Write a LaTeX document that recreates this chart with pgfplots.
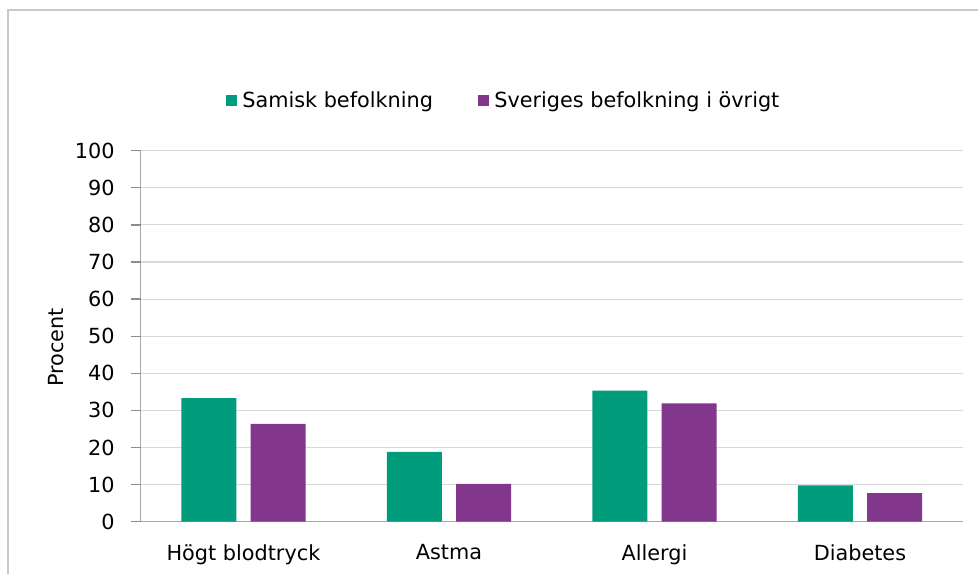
\documentclass[border=0pt]{standalone}
\usepackage{pgfplots}
\pgfplotsset{compat=1.18}
\usepackage{fontspec}
\setmainfont{DejaVu Sans}
\definecolor{sam}{HTML}{009C7B}
\definecolor{sve}{HTML}{82368C}
\definecolor{axgray}{HTML}{A6A6A6}
\definecolor{tickgray}{HTML}{8C8C8C}
\definecolor{gridgray}{HTML}{D9D9D9}
\definecolor{framegray}{HTML}{C8C8C8}
\begin{document}
\begin{tikzpicture}
\useasboundingbox (-105.525pt,-39.225pt) rectangle (627.975pt,391.275pt);
\draw[framegray, line width=0.9pt] (-99.525pt,-45pt) -- (-99.525pt,383.775pt) -- (640pt,383.775pt);
\begin{axis}[
  at={(0pt,0pt)}, anchor=south west,
  width=616.5pt, height=278.25pt, scale only axis,
  font=\fontsize{15.6}{18}\selectfont,
  /pgf/number format/assume math mode=true,
  ybar=10.75pt, bar width=41.25pt,
  xmin=-0.5, xmax=3.5,
  ymin=0, ymax=100,
  xtick={0,1,2,3},
  xticklabels={Högt blodtryck, Astma, Allergi, Diabetes},
  ytick={0,10,...,100},
  axis x line*=bottom,
  axis y line*=left,
  axis line style={axgray, line width=1pt},
  tick align=outside,
  xtick pos=bottom,
  ytick pos=left,
  ymajorgrids,
  grid style={gridgray, line width=0.8pt},
  major tick length=7.5pt,
  every y tick/.style={tickgray, line width=1pt},
  every x tick/.style={draw=none},
  yticklabel style={xshift=-8.5pt},
  xticklabel style={yshift=-6pt},
  ylabel={Procent},
  ylabel style={at={(rel axis cs:0,0.47)}, anchor=south, yshift=54pt, rotate=0},
  legend columns=2,
  legend style={draw=none, fill=none, at={(rel axis cs:0.4438,1.134)}, anchor=center,
    /tikz/every even column/.append style={column sep=30pt}, nodes={inner xsep=4pt}},
  legend image code/.code={\fill[#1,draw=none] (0pt,-3.8pt) rectangle (8pt,4.2pt);},
  legend cell align=left,
  clip=false,
]
\addplot[fill=sam, draw=none] coordinates {(0,33.3) (1,18.8) (2,35.3) (3,9.8)};
\addplot[fill=sve, draw=none] coordinates {(0,26.4) (1,10.2) (2,31.9) (3,7.7)};
\legend{Samisk befolkning, Sveriges befolkning i övrigt}
\end{axis}
\foreach \k in {0,...,10} {\draw[tickgray, line width=1pt] (0pt,\k*27.825pt) -- (-7.5pt,\k*27.825pt);}
\end{tikzpicture}
\end{document}
